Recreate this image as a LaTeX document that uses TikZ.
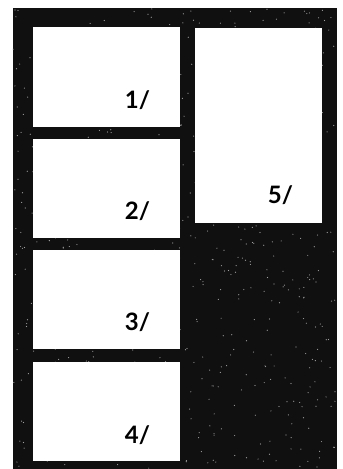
\documentclass[tikz,border=0pt]{standalone}
\usepackage{fontspec}
\setmainfont{Lato}
\usepackage{tikz}
\usetikzlibrary{calc,positioning}
\definecolor{panelbg}{RGB}{16,16,16}
\definecolor{speck}{RGB}{160,160,160}

\begin{document}
\begin{tikzpicture}[x=1pt,y=1pt,
      panel/.style={draw=none,fill=white,inner sep=0pt,minimum width=147pt,minimum height=99pt},
      num/.style={font=\fontsize{24}{28}\selectfont\bfseries,inner sep=0pt,anchor=base east}]
      \useasboundingbox (0,0) rectangle (343,469);
      \fill[panelbg] (13,0) rectangle (337,461);
      % grain of the dark ground
      \pgfmathsetseed{11}
      \foreach \i in {1,...,700}
        \fill[speck] ({13+324*rnd},{461*rnd}) circle (0.6);
      \node[panel,minimum height=100pt] (p1) at (106.5,392) {};
      \node[panel] (p2) at (106.5,280.5) {};
      \node[panel] (p3) at (106.5,169.5) {};
      \node[panel] (p4) at (106.5,57.5) {};
      \node[panel,minimum width=127pt,minimum height=195pt] (p5) at (258.5,343.5) {};
      \node[num] (n1) at ($(p1.south east)+(-30,19)$) {1/};
      \node[num] (n2) at ($(p2.south east)+(-30,19)$) {2/};
      \node[num] (n3) at ($(p3.south east)+(-30,19)$) {3/};
      \node[num] (n4) at ($(p4.south east)+(-30,18)$) {4/};
      \node[num] (n5) at ($(p5.south east)+(-29,20)$) {5/};
    \end{tikzpicture}
\end{document}
